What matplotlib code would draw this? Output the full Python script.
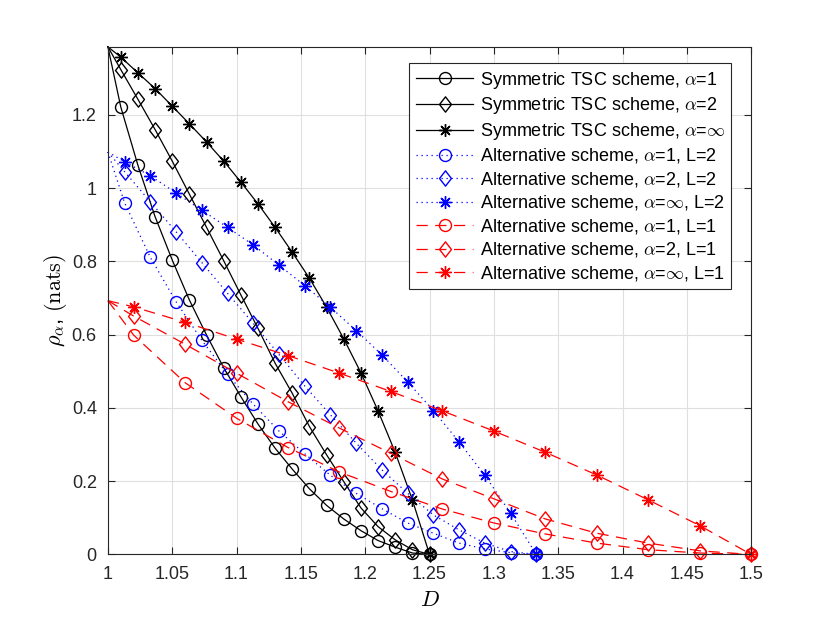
import numpy as np
import matplotlib
matplotlib.use('Agg')
import matplotlib.pyplot as plt
from matplotlib.path import Path

plt.rcParams['font.family'] = ['Liberation Sans', 'DejaVu Sans']
plt.rcParams['mathtext.fontset'] = 'cm'

# distortion values (symmetric TSC, alternative L=2, alternative L=1)
D_sym = [1.0, 1.01, 1.0233, 1.0367, 1.05, 1.0633, 1.0767, 1.09, 1.1033, 1.1167,
         1.13, 1.1433, 1.1567, 1.17, 1.1833, 1.1967, 1.21, 1.2233, 1.2367, 1.25]
D_L2 = [1.0, 1.013, 1.033, 1.053, 1.073, 1.093, 1.113, 1.133, 1.153, 1.173,
        1.193, 1.213, 1.233, 1.253, 1.273, 1.293, 1.313, 1.333]
D_L1 = [1.0, 1.02, 1.06, 1.10, 1.14, 1.18, 1.22, 1.26, 1.30, 1.34, 1.38, 1.42, 1.46, 1.50]

sym_a1 = [1.386, 1.222, 1.063, 0.922, 0.804, 0.695, 0.599, 0.510, 0.431, 0.356,
          0.290, 0.233, 0.179, 0.134, 0.097, 0.065, 0.038, 0.020, 0.004, 0.0]
sym_a2 = [1.386, 1.324, 1.243, 1.160, 1.074, 0.984, 0.893, 0.802, 0.709, 0.617,
          0.522, 0.440, 0.349, 0.272, 0.199, 0.127, 0.076, 0.040, 0.013, 0.0]
sym_inf = [1.386, 1.358, 1.315, 1.272, 1.224, 1.176, 1.126, 1.074, 1.017, 0.957,
           0.893, 0.825, 0.754, 0.675, 0.589, 0.496, 0.392, 0.279, 0.149, 0.0]

L2_a1 = [1.099, 0.960, 0.811, 0.690, 0.585, 0.492, 0.410, 0.337, 0.275, 0.216,
         0.167, 0.125, 0.086, 0.058, 0.031, 0.015, 0.005, 0.0]
L2_a2 = [1.099, 1.045, 0.963, 0.881, 0.797, 0.713, 0.631, 0.546, 0.460, 0.381,
         0.304, 0.231, 0.167, 0.108, 0.067, 0.031, 0.008, 0.0]
L2_inf = [1.099, 1.072, 1.034, 0.987, 0.940, 0.893, 0.845, 0.790, 0.734, 0.675,
          0.611, 0.545, 0.471, 0.393, 0.307, 0.216, 0.113, 0.0]

L1_a1 = [0.693, 0.599, 0.469, 0.372, 0.292, 0.225, 0.172, 0.124, 0.086, 0.056,
         0.031, 0.013, 0.004, 0.0]
L1_a2 = [0.693, 0.651, 0.574, 0.495, 0.417, 0.345, 0.276, 0.206, 0.152, 0.097,
         0.058, 0.031, 0.010, 0.0]
L1_inf = [0.693, 0.676, 0.634, 0.588, 0.543, 0.495, 0.445, 0.392, 0.337, 0.279,
          0.217, 0.149, 0.079, 0.0]

labels = [
    r'Symmetric TSC scheme, $\alpha$=1',
    r'Symmetric TSC scheme, $\alpha$=2',
    r'Symmetric TSC scheme, $\alpha$=$\infty$',
    r'Alternative scheme, $\alpha$=1, L=2',
    r'Alternative scheme, $\alpha$=2, L=2',
    r'Alternative scheme, $\alpha$=$\infty$, L=2',
    r'Alternative scheme, $\alpha$=1, L=1',
    r'Alternative scheme, $\alpha$=2, L=1',
    r'Alternative scheme, $\alpha$=$\infty$, L=1',
]

# matlab-like diamond (taller than wide)
diamond = Path([(0, 1), (0.78, 0), (0, -1), (-0.78, 0), (0, 1)],
               [Path.MOVETO, Path.LINETO, Path.LINETO, Path.LINETO, Path.CLOSEPOLY])
star = (8, 2, 0)

series = [
    (D_sym, sym_a1, 'k', '-', 'o'),
    (D_sym, sym_a2, 'k', '-', diamond),
    (D_sym, sym_inf, 'k', '-', star),
    (D_L2, L2_a1, 'b', ':', 'o'),
    (D_L2, L2_a2, 'b', ':', diamond),
    (D_L2, L2_inf, 'b', ':', star),
    (D_L1, L1_a1, 'r', '--', 'o'),
    (D_L1, L1_a2, 'r', '--', diamond),
    (D_L1, L1_inf, 'r', '--', star),
]

fig = plt.figure(figsize=(8.3, 6.23), dpi=100)
ax = fig.add_axes([0.13, 0.11, 0.775, 0.815])

for (x, y, c, ls, m), lab in zip(series, labels):
    ms = 8.6 if m == 'o' else (11 if m is diamond else 9)
    line, = ax.plot(x, y, color=c, linestyle=ls, linewidth=0.9, marker=m,
                    markersize=ms, markerfacecolor='none', markeredgecolor=c,
                    markeredgewidth=1.0, markevery=slice(1, None), label=lab,
                    clip_on=False)
    if ls == '--':
        line.set_dashes((9, 6))
    elif ls == ':':
        line.set_dashes((1, 3))

ax.set_xlim(1, 1.5)
ax.set_ylim(0, np.log(4))
xt = np.arange(1, 1.501, 0.05)
ax.set_xticks(xt)
ax.set_xticklabels(['1', '1.05', '1.1', '1.15', '1.2', '1.25', '1.3', '1.35', '1.4', '1.45', '1.5'])
ax.set_yticks([0, 0.2, 0.4, 0.6, 0.8, 1.0, 1.2])
ax.set_yticklabels(['0', '0.2', '0.4', '0.6', '0.8', '1', '1.2'])
ax.grid(True, color='#dfdfdf', linewidth=0.8)
ax.set_axisbelow(True)
ax.tick_params(direction='in', top=True, right=True, length=5, width=0.8,
               labelsize=13, colors='#262626', pad=8)
for s in ax.spines.values():
    s.set_color('#262626')
    s.set_linewidth(0.8)

ax.set_xlabel(r'$D$', fontsize=16, labelpad=5)
ax.set_ylabel(r'$\rho_{\alpha}$, $\mathrm{(nats)}$', fontsize=16, labelpad=2)

leg = ax.legend(loc='upper right', bbox_to_anchor=(0.969, 0.967), borderaxespad=0,
                fontsize=13, handlelength=3.2, handletextpad=0.35, labelspacing=0.25,
                borderpad=0.35, fancybox=False, framealpha=1, edgecolor='#262626')
leg.get_frame().set_linewidth(0.8)

fig.savefig('out.png', dpi=100)
